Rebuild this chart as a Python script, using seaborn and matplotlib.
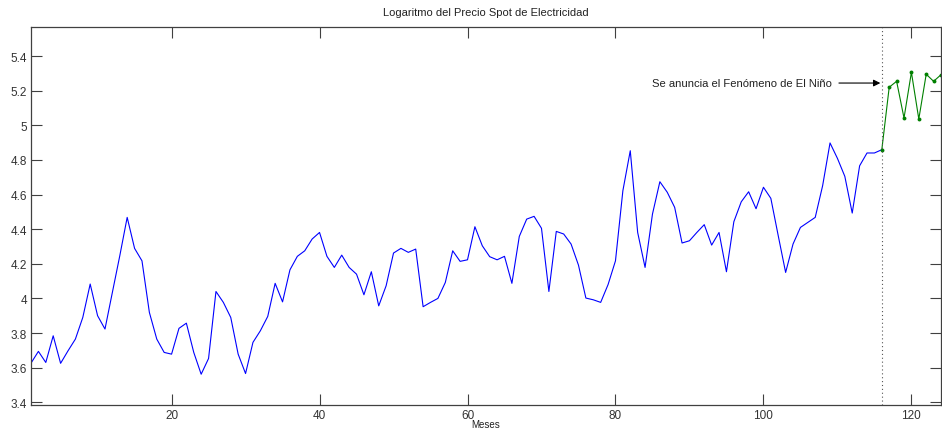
import numpy as np
import pandas as pd
import matplotlib
matplotlib.use("Agg")
import matplotlib.pyplot as plt
import seaborn as sns

# Data
meses_hist = list(range(1, 117))
log_precio_hist = [
    3.626, 3.694, 3.630, 3.784, 3.625, 3.697, 3.765, 3.890, 4.083, 3.900,
    3.823, 4.035, 4.246, 4.468, 4.289, 4.217, 3.919, 3.765, 3.688, 3.678,
    3.827, 3.857, 3.688, 3.562, 3.653, 4.040, 3.977, 3.890, 3.678, 3.566,
    3.746, 3.813, 3.896, 4.087, 3.980, 4.165, 4.243, 4.275, 4.343, 4.381,
    4.243, 4.179, 4.250, 4.179, 4.140, 4.021, 4.154, 3.957, 4.073, 4.262,
    4.289, 4.266, 4.285, 3.952, 3.977, 4.000, 4.092, 4.275, 4.214, 4.223,
    4.414, 4.304, 4.241, 4.223, 4.243, 4.087, 4.358, 4.458, 4.474, 4.405,
    4.040, 4.387, 4.372, 4.314, 4.192, 4.002, 3.992, 3.977, 4.080, 4.217,
    4.622, 4.853, 4.381, 4.179, 4.487, 4.674, 4.613, 4.526, 4.320, 4.333,
    4.381, 4.426, 4.308, 4.381, 4.154, 4.443, 4.558, 4.616, 4.518, 4.642,
    4.578, 4.362, 4.150, 4.314, 4.410, 4.439, 4.468, 4.651, 4.898, 4.809,
    4.705, 4.493, 4.766, 4.840, 4.840, 4.859,
]
meses_nino = list(range(116, 125))
log_precio_nino = [4.859, 5.220, 5.254, 5.042, 5.306, 5.036, 5.295, 5.254, 5.292]

x_ticks = [20, 40, 60, 80, 100, 120]
y_ticks = [3.4, 3.6, 3.8, 4.0, 4.2, 4.4, 4.6, 4.8, 5.0, 5.2, 5.4]
y_ticklabels = ["3.4", "3.6", "3.8", "4", "4.2", "4.4", "4.6", "4.8", "5", "5.2", "5.4"]

titulo = "Logaritmo del Precio Spot de Electricidad"
etiqueta_x = "Meses"
anuncio = "Se anuncia el Fenómeno de El Niño"
mes_anuncio = 116

df_hist = pd.DataFrame({"Mes": meses_hist, "LogPrecio": log_precio_hist})
df_nino = pd.DataFrame({"Mes": meses_nino, "LogPrecio": log_precio_nino})

sns.set_theme(style="white")
plt.rcParams["font.family"] = ["Liberation Sans", "DejaVu Sans"]

fig = plt.figure(figsize=(9.42, 4.31), dpi=100)
ax = fig.add_axes([31 / 942, 1 - 405.7 / 431, 910 / 942, (405.7 - 28.3) / 431])

sns.lineplot(data=df_hist, x="Mes", y="LogPrecio", ax=ax, color="#0000ff",
             linewidth=0.8, estimator=None, sort=False)
sns.lineplot(data=df_nino, x="Mes", y="LogPrecio", ax=ax, color="#008000",
             linewidth=0.8, marker="o", markersize=2.8, markeredgewidth=0,
             estimator=None, sort=False)

ax.axvline(mes_anuncio, color="#555555", linestyle=(0, (1, 2.5)), linewidth=0.8)

ax.annotate(anuncio, xy=(115.8, 5.244), xytext=(109.2, 5.244),
            ha="right", va="center", fontsize=8.1, color="#222222",
            arrowprops=dict(arrowstyle="-|>", color="black", lw=0.8,
                            mutation_scale=10, shrinkA=3, shrinkB=0))

ax.set_xlim(1, 124)
ax.set_ylim(3.386, 5.566)
ax.set_xticks(x_ticks)
ax.set_xticklabels([str(t) for t in x_ticks])
ax.set_yticks(y_ticks)
ax.set_yticklabels(y_ticklabels)

for s in ax.spines.values():
    s.set_color("#404040")
    s.set_linewidth(0.9)
ax.tick_params(direction="in", length=8, width=0.8, color="#404040",
               labelsize=8.5, labelcolor="#333333", top=True, right=True,
               left=True, bottom=True, pad=3)

ax.set_title(titulo, fontsize=8, color="#222222", pad=9)
ax.set_xlabel(etiqueta_x, fontsize=7, color="#222222", labelpad=0)
ax.xaxis.label.set_va("center")
ax.xaxis.set_label_coords(0.5, -0.0515)
ax.set_ylabel("")

fig.savefig("out.png", dpi=100)
